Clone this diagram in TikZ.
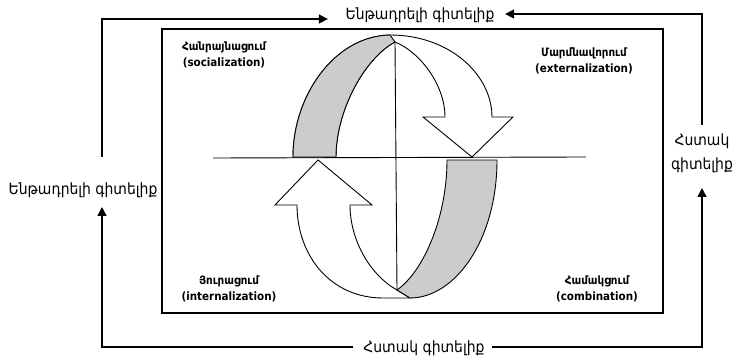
\documentclass[tikz,border=0pt]{standalone}
\usepackage{fontspec}
\setmainfont{DejaVu Sans Condensed}
\usetikzlibrary{arrows.meta}
\definecolor{band}{HTML}{CCCCCC}
\tikzset{
  x=1pt, y=-1pt,
  outerline/.style={line width=1.4pt, -{Triangle[length=9pt,width=9pt]}},
  frame/.style={line width=1.4pt},
  ribbon/.style={line width=0.9pt, line join=miter},
  outerlbl/.style={font=\fontsize{15.5}{24}\selectfont, inner sep=0pt, align=center},
  innerlbl/.style={font=\fontsize{11.5}{15.5}\selectfont\bfseries, inner sep=0pt, align=center},
}
\begin{document}
\begin{tikzpicture}
\useasboundingbox (0,0) rectangle (732,358);
% labels
\node[outerlbl] (tacitTop) at (420,15) {Ենթադրելի գիտելիք};
\node[outerlbl] (tacitLeft) at (83,190) {Ենթադրելի գիտելիք};
\node[outerlbl] (explRight) at (702,153) {Հստակ\\գիտելիք};
\node[outerlbl] (explBottom) at (424,348) {Հստակ գիտելիք};
% corners and free ends
\coordinate (c1) at (102,19);
\coordinate (c2) at (702,14);
\coordinate (c3) at (702,347);
\coordinate (c4) at (102,347);
\coordinate (lStart) at (102,157);
\coordinate (lTip) at (102,207);
\coordinate (rStart) at (702,125);
\coordinate (rTip) at (702,188);
% outer connectors
\draw[outerline, shorten >=17.5pt] (lStart) -- (c1) -- (tacitTop.west |- c1);
\draw[outerline, shorten >=10.5pt] (rStart) -- (c2) -- (tacitTop.east |- c2);
\draw[outerline, shorten <=10pt] (explBottom.west |- c4) -- (c4) -- (lTip);
\draw[outerline, shorten <=7pt] (explBottom.east |- c3) -- (c3) -- (rTip);
% inner box
\draw[frame] (162,29) rectangle (663,313);
% axis
\coordinate (axL) at (213,158);
\coordinate (axR) at (586,157);
\draw[line width=0.9pt] (axL) -- (axR);
% top ribbon arrow
\draw[ribbon, fill=white] (293,157) .. controls (293,95) and (335,36) .. (390,35)
  .. controls (450,35) and (492,75) .. (492,117) -- (513,117) -- (472,157) -- (423,117) -- (445,117)
  .. controls (445,85) and (420,52) .. (395,42) .. controls (365,58) and (336,110) .. (336,157) -- cycle;
\draw[ribbon, fill=band] (293,157) .. controls (293,95) and (335,36) .. (390,35) -- (395,42)
  .. controls (365,58) and (336,110) .. (336,157) -- cycle;
% bottom ribbon arrow
\draw[ribbon, fill=white] (350,205) -- (372,205) -- (318,160) -- (275,205) -- (297,205)
  .. controls (297,255) and (330,298) .. (383,298) -- (410,298) -- (397,290)
  .. controls (370,275) and (350,240) .. (350,205) -- cycle;
\draw[ribbon, fill=band] (447,160) -- (497,160) .. controls (497,240) and (455,298) .. (410,298) -- (397,290)
  .. controls (425,270) and (447,215) .. (447,160) -- cycle;
% vertical axis
\coordinate (vT) at (395,42);
\coordinate (vB) at (397,290);
\draw[line width=0.9pt] (vT) -- (vB);
% quadrant labels
\node[innerlbl] (soc) at (224,55) {Հանրայնացում\\(socialization)};
\node[innerlbl] (ext) at (584,61) {Մարմնավորում\\(externalization)};
\node[innerlbl] (int) at (229,289) {Յուրացում\\(internalization)};
\node[innerlbl] (comb) at (597,289) {Համակցում\\(combination)};
\end{tikzpicture}
\end{document}
